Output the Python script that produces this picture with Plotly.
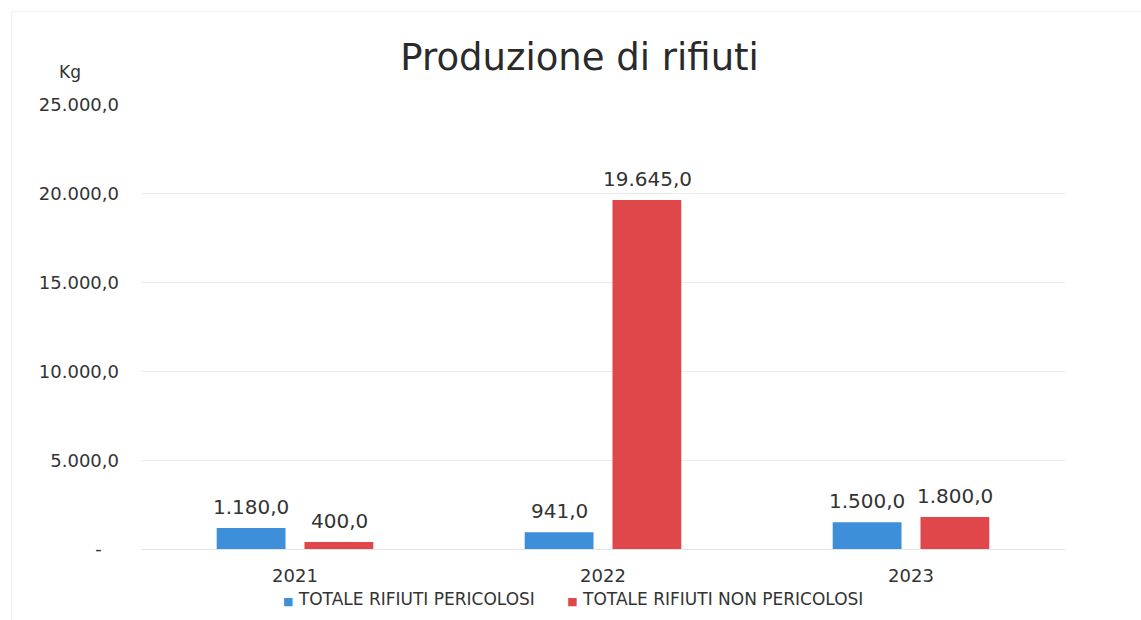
import plotly.graph_objects as go

# Waste production by year (kg)
years = ["2021", "2022", "2023"]
pericolosi = [1180.0, 941.0, 1500.0]
non_pericolosi = [400.0, 19645.0, 1800.0]
series_names = ["TOTALE RIFIUTI PERICOLOSI", "TOTALE RIFIUTI NON PERICOLOSI"]

y_tick_vals = [0, 5000, 10000, 15000, 20000, 25000]
y_tick_text = ["-\u00a0\u00a0\u00a0", "5.000,0", "10.000,0", "15.000,0", "20.000,0", "25.000,0"]

BLUE = "#3c8fd8"
RED = "#e0474b"
TEXT = "#333333"
FONT = "DejaVu Sans"
BAR_OFFSET = 44  # px from category centre to each bar's centre


def fmt_it(v):
    s = f"{v:,.1f}"
    return s.replace(",", "X").replace(".", ",").replace("X", ".")


fig = go.Figure()
for vals, name, color in [(pericolosi, series_names[0], BLUE),
                          (non_pericolosi, series_names[1], RED)]:
    fig.add_trace(go.Bar(
        x=years, y=vals, name=name,
        marker=dict(color=color, line=dict(width=0)),
        showlegend=False,
    ))

# value labels above the bars (category axis positions are 0, 1, 2)
for vals, shift in [(pericolosi, -BAR_OFFSET), (non_pericolosi, BAR_OFFSET)]:
    for i, v in enumerate(vals):
        fig.add_annotation(x=i, y=v, xref="x", yref="y", text=fmt_it(v),
                           showarrow=False, xshift=shift, yshift=21,
                           xanchor="center", yanchor="middle",
                           font=dict(size=20, color=TEXT, family=FONT))

fig.update_layout(
    width=1141, height=620,
    separators=",.",
    paper_bgcolor="white", plot_bgcolor="white",
    margin=dict(l=141, r=76, t=105, b=71),
    barmode="group", bargap=0.43, bargroupgap=0.216,
    font=dict(family=FONT, color=TEXT),
    title=dict(text="Produzione di rifiuti", x=0.508, xanchor="center",
               y=0.908, yanchor="middle",
               font=dict(size=37, color="#2a2a2a", family=FONT)),
    showlegend=False,
)
fig.update_xaxes(
    type="category", categoryorder="array", categoryarray=years,
    range=[-0.5, len(years) - 0.5],
    showgrid=False, showline=True, linecolor="#e3e3e3", linewidth=1,
    ticks="", ticklabelstandoff=10,
    tickfont=dict(size=18, color=TEXT, family=FONT),
)
fig.update_yaxes(
    range=[0, 25000], tickvals=y_tick_vals, ticktext=y_tick_text,
    showgrid=True, gridcolor="#ebebeb", gridwidth=1, zeroline=False,
    showline=False, ticks="", ticklabelstandoff=21,
    tickfont=dict(size=18, color=TEXT, family=FONT),
)

fig.add_annotation(text="Kg", xref="paper", yref="paper",
                   x=-0.077, y=1.075, xanchor="center", yanchor="middle",
                   showarrow=False, font=dict(size=17, color=TEXT, family=FONT))

# legend row under the axis
legend_html = (
    f'<span style="color:{BLUE};font-size:11px">■</span> {series_names[0]}'
    f'\u00a0\u00a0\u00a0\u00a0\u00a0\u00a0'
    f'<span style="color:{RED};font-size:11px">■</span> {series_names[1]}'
)
fig.add_annotation(text=legend_html, xref="paper", yref="paper",
                   x=0.468, y=-0.113, xanchor="center", yanchor="middle",
                   showarrow=False, font=dict(size=17, color=TEXT, family=FONT))

# faint frame around the chart area
fig.add_shape(type="rect", xref="paper", yref="paper",
              x0=-0.140, y0=-0.23, x1=1.2, y1=1.21,
              line=dict(color="#eeeeee", width=1))

fig.write_html("out.html")
